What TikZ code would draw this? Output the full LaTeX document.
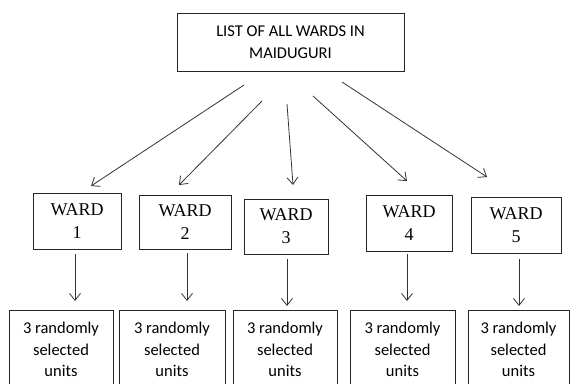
\documentclass[tikz,border=0pt]{standalone}
\usepackage{fontspec}
\setmainfont{Liberation Serif}
\newfontfamily\calib{Carlito}
\usetikzlibrary{arrows.meta}
\begin{document}
\begin{tikzpicture}[x=1pt,y=-1pt,
  box/.style={draw=black!85,line width=0.9pt,inner sep=0pt,align=center},
  topbox/.style={box,font=\calib\fontsize{16.5}{22}\selectfont},
  wardbox/.style={box,font=\fontsize{18}{23}\selectfont},
  unitbox/.style={box,anchor=north,inner ysep=12pt,font=\calib\fontsize{16.5}{21.5}\selectfont},
  arr/.style={draw=black!80,line width=0.8pt,-{Straight Barb[length=7pt,width=11pt]}}]
\useasboundingbox (0,0) rectangle (570,383);
\clip (0,0) rectangle (570,383);
% top box
\node[topbox,minimum width=227pt,minimum height=58pt] (top) at (290.5,42) {LIST OF ALL WARDS IN\\MAIDUGURI};
% ward boxes
\node[wardbox,minimum width=88pt,minimum height=56pt] (w1) at (77,221) {WARD\\1};
\node[wardbox,minimum width=92pt,minimum height=54pt] (w2) at (185,222) {WARD\\2};
\node[wardbox,minimum width=84pt,minimum height=55pt] (w3) at (286,226.5) {WARD\\3};
\node[wardbox,minimum width=86pt,minimum height=56pt] (w4) at (409,223) {WARD\\4};
\node[wardbox,minimum width=90pt,minimum height=56pt] (w5) at (516,225) {WARD\\5};
% unit boxes
\node[unitbox,minimum width=104pt] (u1) at (61,310) {3 randomly\\selected\\units\\[14pt]\mbox{}};
\node[unitbox,minimum width=106pt] (u2) at (172,310) {3 randomly\\selected\\units\\[14pt]\mbox{}};
\node[unitbox,minimum width=104pt] (u3) at (285,310) {3 randomly\\selected\\units\\[14pt]\mbox{}};
\node[unitbox,minimum width=105pt] (u4) at (402.5,310) {3 randomly\\selected\\units\\[14pt]\mbox{}};
\node[unitbox,minimum width=101pt] (u5) at (518.5,310) {3 randomly\\selected\\units\\[14pt]\mbox{}};
% arrow end points
\coordinate (s1) at (244,85);  \coordinate (e1) at (91,186);
\coordinate (s2) at (262,101); \coordinate (e2) at (179,185);
\coordinate (s3) at (287,104); \coordinate (e3) at (293,185);
\coordinate (s4) at (313,96);  \coordinate (e4) at (407,181);
\coordinate (s5) at (342,82);  \coordinate (e5) at (487,177);
\draw[arr] (s1) -- (e1);
\draw[arr] (s2) -- (e2);
\draw[arr] (s3) -- (e3);
\draw[arr] (s4) -- (e4);
\draw[arr] (s5) -- (e5);
% ward to units
\coordinate (a1) at (75,254);  \coordinate (b1) at (75,301);
\coordinate (a2) at (187,253); \coordinate (b2) at (187,301);
\coordinate (a3) at (287,259); \coordinate (b3) at (287,306);
\coordinate (a4) at (407,254); \coordinate (b4) at (407,301);
\coordinate (a5) at (519,259); \coordinate (b5) at (519,306);
\draw[arr] (a1) -- (b1);
\draw[arr] (a2) -- (b2);
\draw[arr] (a3) -- (b3);
\draw[arr] (a4) -- (b4);
\draw[arr] (a5) -- (b5);
\end{tikzpicture}
\end{document}
